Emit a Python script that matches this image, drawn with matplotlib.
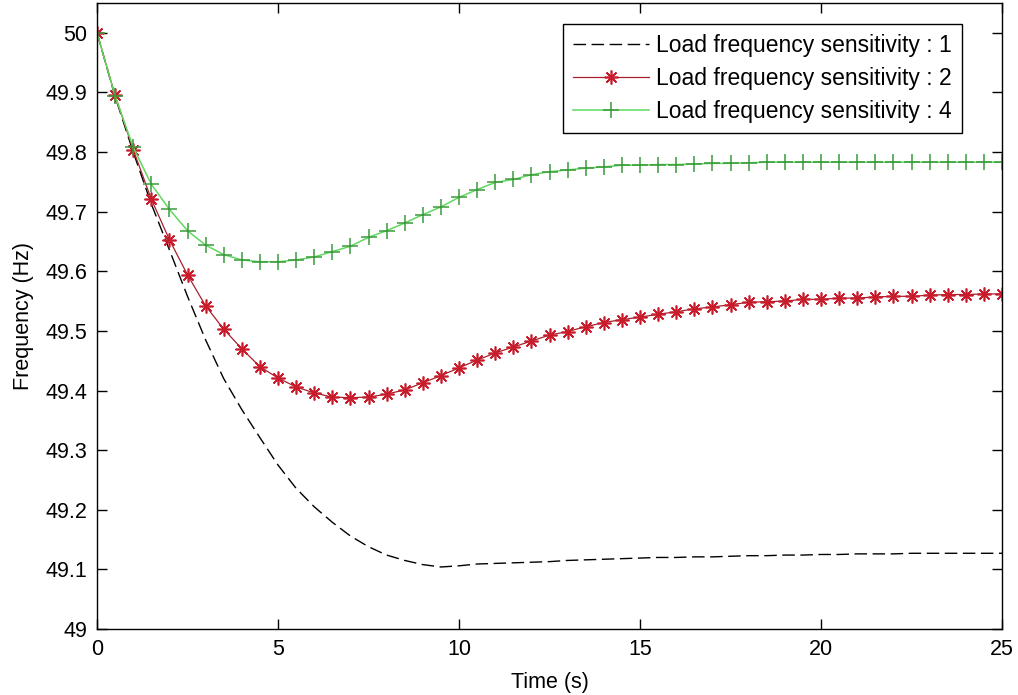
import numpy as np
import matplotlib
matplotlib.use("Agg")
import matplotlib.pyplot as plt

plt.rcParams['font.family'] = ['Liberation Sans', 'DejaVu Sans']

# time grid (s), one sample every 0.5 s
t = np.arange(0, 25.5, 0.5)

# load frequency sensitivity 1 (black dashed)
f_d1 = [50.000, 49.893, 49.800, 49.713, 49.636, 49.558, 49.485, 49.420, 49.368, 49.321,
        49.275, 49.236, 49.205, 49.179, 49.156, 49.138, 49.124, 49.115, 49.108, 49.104,
        49.106, 49.109, 49.110, 49.111, 49.112, 49.113, 49.115, 49.116, 49.117, 49.118,
        49.119, 49.120, 49.120, 49.121, 49.121, 49.122, 49.123, 49.123, 49.124, 49.124,
        49.125, 49.125, 49.126, 49.126, 49.126, 49.127, 49.127, 49.127, 49.127, 49.127,
        49.127]

# load frequency sensitivity 2 (red asterisks)
f_d2 = [50.000, 49.895, 49.804, 49.721, 49.653, 49.594, 49.542, 49.503, 49.470, 49.440,
        49.421, 49.406, 49.396, 49.389, 49.388, 49.389, 49.394, 49.401, 49.413, 49.425,
        49.438, 49.451, 49.463, 49.473, 49.483, 49.493, 49.499, 49.507, 49.514, 49.519,
        49.523, 49.528, 49.532, 49.537, 49.540, 49.544, 49.548, 49.549, 49.550, 49.553,
        49.553, 49.555, 49.555, 49.557, 49.558, 49.558, 49.560, 49.561, 49.561, 49.562,
        49.562]

# load frequency sensitivity 4 (green plus)
f_d4 = [50.000, 49.894, 49.808, 49.746, 49.704, 49.668, 49.644, 49.628, 49.619, 49.616,
        49.616, 49.619, 49.624, 49.633, 49.642, 49.657, 49.668, 49.681, 49.695, 49.708,
        49.724, 49.737, 49.749, 49.754, 49.762, 49.767, 49.770, 49.773, 49.775, 49.778,
        49.778, 49.779, 49.779, 49.780, 49.781, 49.781, 49.782, 49.783, 49.783, 49.783,
        49.783, 49.783, 49.783, 49.783, 49.783, 49.783, 49.783, 49.783, 49.783, 49.783,
        49.783]

labels = ['Load frequency sensitivity : 1',
          'Load frequency sensitivity : 2',
          'Load frequency sensitivity : 4']

fig = plt.figure(figsize=(10.18, 6.95), dpi=100)
ax = fig.add_axes([97 / 1018, 1 - 629 / 695, 905 / 1018, 626 / 695])

l1, = ax.plot(t, f_d1, color='black', lw=1.0, label=labels[0])
l1.set_dashes([9, 4])
ax.plot(t, f_d2, color='#a8202c', lw=0.9, marker=(8, 2, 0), ms=10,
        mec='#c81c2c', mew=1.2, label=labels[1])
ax.plot(t, f_d4, color='#60d860', lw=1.1, marker='+', ms=11,
        mec='#3a9a3a', mew=1.1, label=labels[2])

ax.set_xlim(0, 25)
ax.set_ylim(49, 50.05)
ax.set_xticks([0, 5, 10, 15, 20, 25])
ax.set_yticks(np.round(np.arange(49, 50.01, 0.1), 1))
ax.set_yticklabels(['49', '49.1', '49.2', '49.3', '49.4', '49.5',
                    '49.6', '49.7', '49.8', '49.9', '50'])
ax.tick_params(direction='in', length=7.5, width=1.0, top=True, right=True,
               labelsize=15.5, pad=7)
for s in ax.spines.values():
    s.set_linewidth(1.0)

ax.set_xlabel('Time (s)', fontsize=15.5, labelpad=9)
ax.set_ylabel('Frequency (Hz)', fontsize=15.5, labelpad=8)

leg = ax.legend(loc='upper right', bbox_to_anchor=((962 - 97) / 905, (629 - 24) / 626),
                borderaxespad=0, fontsize=16.5, fancybox=False, framealpha=1,
                edgecolor='black', handlelength=3.3, handletextpad=0.3,
                labelspacing=0.42, borderpad=0.45)
leg.get_frame().set_linewidth(1.0)

fig.savefig('out.png', dpi=100)
